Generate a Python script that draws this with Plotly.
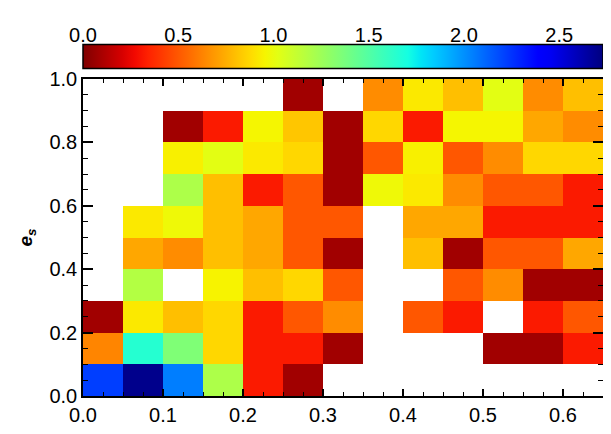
import numpy as np
import plotly.graph_objs as go

# bin centres (x: 0.05 wide, y: 0.1 wide)
x_centres = [0.025, 0.075, 0.125, 0.175, 0.225, 0.275, 0.325, 0.375, 0.425, 0.475, 0.525, 0.575, 0.625]
y_centres = [0.05, 0.15, 0.25, 0.35, 0.45, 0.55, 0.65, 0.75, 0.85, 0.95]

N = None
# rows from bottom (e_s = 0.0-0.1) to top (0.9-1.0)
row0 = [2.22, 2.70, 2.05, 1.20, 0.32, 0.08, N, N, N, N, N, N, N]
row1 = [0.63, 1.65, 1.35, 0.87, 0.32, 0.32, 0.08, N, N, N, 0.08, 0.08, 0.32]
row2 = [0.08, 0.92, 0.80, 0.87, 0.32, 0.50, 0.65, N, 0.50, 0.32, N, 0.32, 0.50]
row3 = [N, 1.18, N, 0.95, 0.80, 0.87, 0.50, N, N, 0.50, 0.65, 0.08, 0.08]
row4 = [N, 0.73, 0.65, 0.80, 0.73, 0.50, 0.08, N, 0.80, 0.08, 0.50, 0.50, 0.73]
row5 = [N, 0.92, 0.98, 0.80, 0.73, 0.50, 0.50, N, 0.73, 0.73, 0.32, 0.32, 0.32]
row6 = [N, N, 1.20, 0.80, 0.32, 0.50, 0.08, 0.98, 0.92, 0.65, 0.50, 0.50, 0.32]
row7 = [N, N, 0.94, 1.02, 0.92, 0.87, 0.08, 0.50, 0.94, 0.50, 0.65, 0.87, 0.87]
row8 = [N, N, 0.08, 0.32, 0.96, 0.82, 0.08, 0.87, 0.32, 0.96, 0.96, 0.73, 0.65]
row9 = [N, N, N, N, N, 0.08, N, 0.65, 0.92, 0.80, 1.02, 0.65, 0.80]
z = [row0, row1, row2, row3, row4, row5, row6, row7, row8, row9]

zmax = 2.73

# reversed jet colour table
def jet(t):
    r = np.interp(t, [0, 0.35, 0.66, 0.89, 1], [0, 0, 1, 1, 0.5])
    g = np.interp(t, [0, 0.125, 0.375, 0.64, 0.91, 1], [0, 0, 1, 1, 0, 0])
    b = np.interp(t, [0, 0.11, 0.34, 0.65, 1], [0.5, 1, 1, 0, 0])
    return 'rgb(%d,%d,%d)' % (r * 255, g * 255, b * 255)

stops = np.linspace(0, 1, 41)
cscale = [[float(p), jet(1 - p)] for p in stops]

font = dict(family='Liberation Sans, Arial, sans-serif', size=20, color='black')

fig = go.Figure(go.Heatmap(
    x=x_centres, y=y_centres, z=z,
    zmin=0, zmax=zmax, colorscale=cscale, hoverongaps=False,
    colorbar=dict(orientation='h', x=0.5, xanchor='center', y=0.8907, yanchor='bottom',
                  len=1.0, lenmode='fraction', thickness=24, thicknessmode='pixels',
                  xpad=0, ypad=0,
                  outlinecolor='black', outlinewidth=1.5,
                  showticklabels=False, ticks=''),
))
# empty trace so the colour-bar scale axis gets drawn
fig.add_trace(go.Scatter(x=[], y=[], xaxis='x2', yaxis='y', showlegend=False))

axis_common = dict(showgrid=False, zeroline=False, showline=True, linecolor='black', linewidth=1.5,
                   mirror='ticks', ticks='inside', tickcolor='black', tickwidth=1.5, tickfont=font)

fig.update_layout(
    xaxis=dict(range=[0, 0.65], dtick=0.1, tick0=0, tickformat='.1f', ticklen=7, automargin=False,
               minor=dict(dtick=0.025, ticks='inside', ticklen=4, tickcolor='black', tickwidth=1.2),
               **axis_common),
    yaxis=dict(range=[0, 1.0], domain=[0, 0.8661], dtick=0.2, tick0=0, tickformat='.1f', ticklen=10,
               automargin=False,
               minor=dict(dtick=0.05, ticks='inside', ticklen=5, tickcolor='black', tickwidth=1.2),
               title=dict(text='<b><i>e</i></b><sub><b><i>s</i></b></sub>', standoff=12,
                          font=dict(family='Liberation Sans, Arial, sans-serif', size=19, color='black')),
               **axis_common),
    xaxis2=dict(range=[0, zmax], overlaying='x', side='top', anchor='free', position=0.9563,
                dtick=0.5, tick0=0, tickformat='.1f', ticks='inside', ticklen=5, tickcolor='black',
                tickwidth=1.5, showline=False, showgrid=False, zeroline=False, automargin=False,
                minor=dict(dtick=0.25, ticks='inside', ticklen=3, tickcolor='black', tickwidth=1.2),
                tickfont=font),
    width=611, height=434, margin=dict(l=75, r=16, t=22, b=46, autoexpand=False),
    plot_bgcolor='white', paper_bgcolor='white', font=font,
)

fig.write_html("out.html")
